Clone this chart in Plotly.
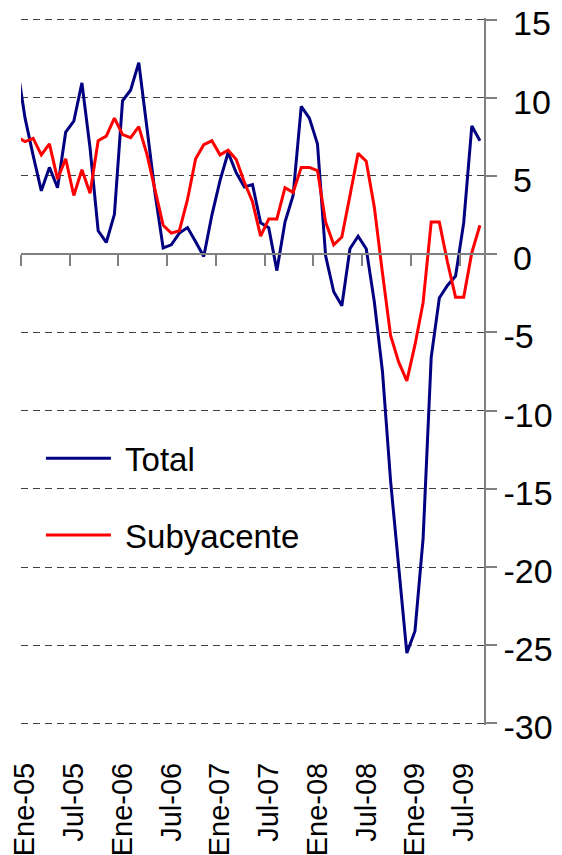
import plotly.graph_objects as go

# ---- data ----
mes = ["Ene", "Feb", "Mar", "Abr", "May", "Jun", "Jul", "Ago", "Sep", "Oct", "Nov", "Dic"]
months = ["Dic-04"] + [f"{m}-{y:02d}" for y in range(5, 10) for m in mes][:57]

total = [12.1,
         8.7, 6.3, 4.05, 5.55, 4.25, 7.8, 8.5, 10.95, 6.8, 1.5, 0.75, 2.55,
         9.8, 10.5, 12.25, 8.1, 3.9, 0.4, 0.6, 1.35, 1.7, 0.8, -0.15, 2.5,
         4.7, 6.5, 5.2, 4.3, 4.45, 2.0, 1.7, -1.05, 2.05, 3.75, 9.45, 8.7,
         7.05, -0.1, -2.4, -3.3, 0.35, 1.15, 0.35, -3.05, -7.5, -14.5, -19.8, -25.5,
         -24.1, -18.2, -6.6, -2.8, -2.0, -1.4, 2.0, 8.2, 7.25]

subyacente = [7.5,
              7.2, 7.4, 6.35, 7.05, 4.8, 6.1, 3.75, 5.4, 3.9, 7.25, 7.55, 8.7,
              7.65, 7.45, 8.15, 6.4, 4.1, 1.85, 1.35, 1.5, 3.5, 6.1, 7.0, 7.25,
              6.35, 6.65, 6.05, 4.6, 3.35, 1.15, 2.25, 2.25, 4.25, 3.95, 5.55, 5.55,
              5.35, 2.05, 0.6, 1.1, 3.75, 6.45, 5.95, 3.0, -1.2, -5.2, -6.9, -8.1,
              -5.8, -3.1, 2.05, 2.05, -0.5, -2.75, -2.75, 0.1, 1.85]

x_tick_labels = months[1::6]
y_ticks = [15, 10, 5, 0, -5, -10, -15, -20, -25, -30]
y_tick_text = [("\u00a0" + str(v)) if v >= 0 else str(v) for v in y_ticks]

FONT = "Liberation Sans, Arial, sans-serif"
x_range = [0.5, len(months) - 0.5]
boundaries = [i - 0.5 for i in range(1, len(months), 6)]
idx = list(range(len(months)))

fig = go.Figure()
fig.add_trace(go.Scatter(x=months, y=total, name="\u00a0Total", mode="lines",
                         line=dict(color="#000080", width=3), legendgroup="a"))
fig.add_trace(go.Scatter(x=months, y=subyacente, name="\u00a0Subyacente", mode="lines",
                         line=dict(color="#ff0000", width=3), legendgroup="b"))
# invisible helper so the zero-crossing axis (ticks between months) is drawn
fig.add_trace(go.Scatter(x=idx, y=total, xaxis="x2", mode="lines", opacity=0,
                         line=dict(width=0), showlegend=False, hoverinfo="skip"))

fig.update_layout(
    width=554, height=847,
    margin=dict(l=13, r=78, t=10.4, b=130.4),
    paper_bgcolor="white", plot_bgcolor="white",
    font=dict(family=FONT, color="black"),
    showlegend=True,
    legend=dict(x=0.043, y=0.417, xanchor="left", yanchor="top", itemwidth=65,
                font=dict(family=FONT, size=33, color="black"),
                bgcolor="rgba(0,0,0,0)", traceorder="grouped", tracegroupgap=31),
    xaxis=dict(type="category", range=x_range, tickmode="array",
               tickvals=x_tick_labels, ticktext=x_tick_labels, tickangle=-90,
               ticks="", showgrid=False, showline=False, zeroline=False,
               tickfont=dict(family=FONT, size=29, color="black"),
               ticklabelstandoff=31, automargin=False),
    xaxis2=dict(overlaying="x", anchor="free", position=30.1 / 45.2, type="linear",
                range=x_range, tickmode="array", tickvals=boundaries,
                ticks="outside", ticklen=11, tickcolor="#808080", tickwidth=1.5,
                showticklabels=False, showline=True, linecolor="#808080", linewidth=1.5,
                showgrid=False, zeroline=False, automargin=False),
    yaxis=dict(side="right", range=[-30.1, 15.1], tickmode="array", tickvals=y_ticks,
               ticktext=y_tick_text, showgrid=True, gridcolor="#404040",
               griddash="7px,5px", gridwidth=1, showline=True, linecolor="#808080",
               linewidth=1.5, ticks="outside", ticklen=11, tickcolor="#808080",
               tickwidth=1.5, zeroline=False, ticklabeloverflow="allow",
               ticklabelshift=4,
               tickfont=dict(family=FONT, size=34, color="black"),
               ticklabelstandoff=0, automargin=False),
)

fig.write_html("out.html")
